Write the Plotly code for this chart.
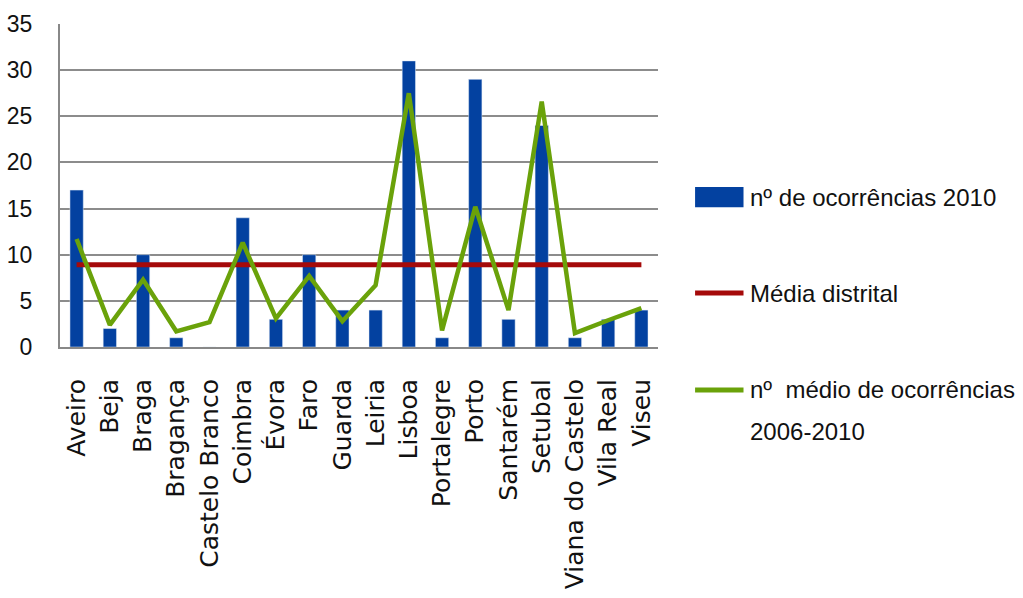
import plotly.graph_objects as go

distritos = ["Aveiro", "Beja", "Braga", "Bragança", "Castelo Branco", "Coimbra",
             "Évora", "Faro", "Guarda", "Leiria", "Lisboa", "Portalegre", "Porto",
             "Santarém", "Setubal", "Viana do Castelo", "Vila Real", "Viseu"]
ocorrencias_2010 = [17, 2, 10, 1, 0, 14, 3, 10, 4, 4, 31, 1, 29, 3, 24, 1, 3, 4]
media_2006_2010 = [11.7, 2.4, 7.3, 1.7, 2.7, 11.3, 3.1, 7.7, 2.8, 6.7,
                   27.5, 1.8, 15.2, 4.0, 26.6, 1.5, 2.9, 4.2]
media_distrital = 8.9

nome_barras = "nº de ocorrências 2010"
nome_media = "Média distrital"
nome_linha = ["nº  médio de ocorrências", "2006-2010"]

BLUE = "#0341a0"
RED = "#a50a0a"
GREEN = "#6aa20a"
label_font = "Liberation Sans, Arial, sans-serif"

fig = go.Figure()
fig.add_trace(go.Bar(x=distritos, y=ocorrencias_2010, marker_color=BLUE,
                     width=0.4, showlegend=False))
fig.add_trace(go.Scatter(x=distritos, y=[media_distrital] * len(distritos),
                         mode="lines", line=dict(color=RED, width=5),
                         showlegend=False))
fig.add_trace(go.Scatter(x=distritos, y=media_2006_2010, mode="lines",
                         line=dict(color=GREEN, width=4.5), showlegend=False))

# Legend drawn as symbol shapes plus text annotations (paper coordinates)
sym_x0, sym_x1, txt_x = 1.062, 1.143, 1.15
legend_items = [
    ("rect", BLUE, [nome_barras], 0.464),
    ("line", RED, [nome_media], 0.167),
    ("line", GREEN, nome_linha, -0.133),
]
line_step = 0.13
shapes = []
annotations = []
for kind, color, lines, yy in legend_items:
    if kind == "rect":
        shapes.append(dict(type="rect", xref="paper", yref="paper",
                           x0=sym_x0, x1=sym_x1, y0=yy - 0.031, y1=yy + 0.031,
                           fillcolor=color, line=dict(width=0)))
    else:
        shapes.append(dict(type="line", xref="paper", yref="paper",
                           x0=sym_x0, x1=sym_x1, y0=yy, y1=yy,
                           line=dict(color=color, width=5)))
    for i, text in enumerate(lines):
        annotations.append(dict(xref="paper", yref="paper", x=txt_x,
                                y=yy - i * line_step, text=text,
                                showarrow=False, xanchor="left",
                                yanchor="middle", align="left",
                                font=dict(family=label_font, size=24,
                                          color="#111")))

fig.update_layout(
    width=1023, height=598,
    margin=dict(l=60, r=365, t=24, b=251),
    plot_bgcolor="white", paper_bgcolor="white",
    shapes=shapes, annotations=annotations,
    xaxis=dict(tickangle=-90, showline=True, linecolor="#888", linewidth=2,
               ticks="", ticklabelstandoff=20, automargin=False,
               tickfont=dict(family="DejaVu Sans, sans-serif",
                             size=25, color="#111"),
               range=[-0.5, len(distritos) - 0.5]),
    yaxis=dict(range=[0, 35], dtick=5, showgrid=True, gridcolor="#8c8c8c",
               gridwidth=1.5, showline=True, linecolor="#888", linewidth=2,
               zeroline=False, ticks="", ticklabelstandoff=21,
               automargin=False,
               tickfont=dict(family=label_font, size=23, color="#111")),
)

fig.write_html("out.html")
